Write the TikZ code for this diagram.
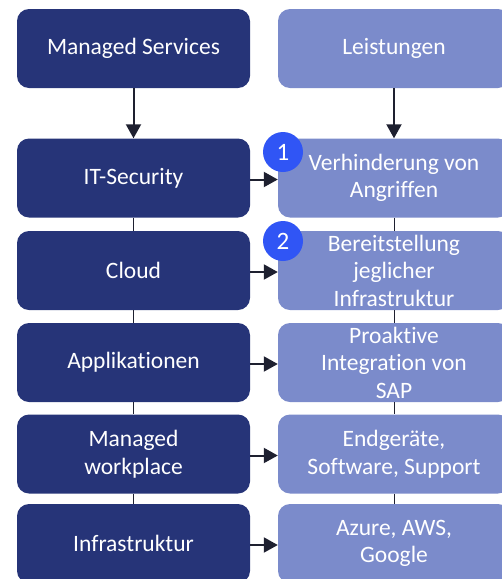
\documentclass[tikz,border=0pt]{standalone}
\usepackage{fontspec}
\setmainfont{Carlito}[Ligatures=NoCommon]
\usetikzlibrary{arrows.meta}
\definecolor{navy}{RGB}{38,52,120}
\definecolor{lavender}{RGB}{123,139,203}
\definecolor{badge}{RGB}{48,85,245}
\definecolor{ink}{RGB}{30,32,48}
\tikzset{
  box/.style={rounded corners=12pt, minimum height=79pt, align=center,
    text=white, inner sep=0pt, font=\fontsize{23.5}{27.5}\selectfont},
  service/.style={box, fill=navy, minimum width=233pt},
  offer/.style={box, fill=lavender, minimum width=232pt},
  badgecirc/.style={circle, fill=badge, minimum size=40pt, inner sep=0pt,
    text=white, font=\fontsize{25}{28}\selectfont},
  flow/.style={draw=ink, line width=2pt, -{Triangle[length=14pt,width=15pt]}},
  link/.style={draw=ink, line width=1pt}
}
\begin{document}
\begin{tikzpicture}[x=1pt,y=-1pt]
\useasboundingbox (0,0) rectangle (502,579);
\clip (0,0) rectangle (502,579);

% left column: service areas
\node[service] (s0) at (133.5,48.5)  {Managed Services};
\node[service] (s1) at (133.5,178)   {IT-Security};
\node[service] (s2) at (133.5,270.5) {Cloud};
\node[service] (s3) at (133.5,362.5) {Applikationen};
\node[service] (s4) at (133.5,454)   {Managed\\workplace};
\node[service] (s5) at (133.5,543.5) {Infrastruktur};

% right column: what each area delivers
\node[offer] (o0) at (394,48.5)  {Leistungen};
\node[offer] (o1) at (394,178)   {Verhinderung von\\Angriffen};
\node[offer] (o2) at (394,270.5) {Bereitstellung\\jeglicher\\Infrastruktur};
\node[offer] (o3) at (394,362.5) {Proaktive\\Integration von\\SAP};
\node[offer] (o4) at (394,454)   {Endgeräte,\\Software, Support};
\node[offer] (o5) at (394,543.5) {Azure, AWS,\\Google};

% headers point down into the lists
\draw[flow] (s0.south) -- (s1.north);
\draw[flow] (o0.south) -- (o1.north);

% thin links between the rows
\foreach \a/\b in {1/2,2/3,3/4,4/5}{
  \draw[link] (s\a.south) -- (s\b.north);
  \draw[link] (o\a.south) -- (o\b.north);
}

% each service maps to its offering
\foreach \i in {1,...,5}{
  \draw[flow] ([yshift=-1.5pt]s\i.east) -- ([yshift=-1.5pt]o\i.west);
}

% numbered badges
\node[badgecirc] (b1) at (283,152) {1};
\node[badgecirc] (b2) at (283,241) {2};
\end{tikzpicture}
\end{document}
